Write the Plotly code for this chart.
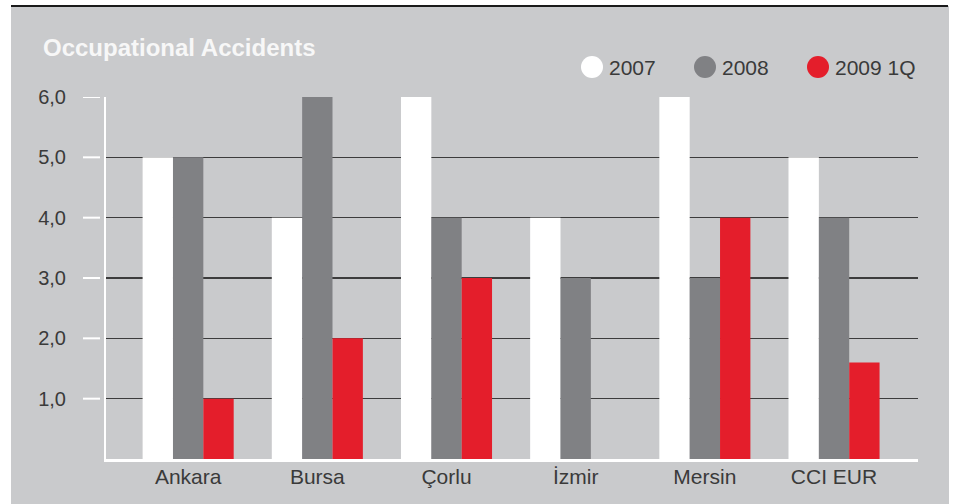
import plotly.graph_objects as go

categories = ["Ankara", "Bursa", "Çorlu", "İzmir", "Mersin", "CCI EUR"]
series_names = ["2007", "2008", "2009 1Q"]
values_2007 = [5, 4, 6, 4, 6, 5]
values_2008 = [5, 6, 4, 3, 3, 4]
values_2009q1 = [1, 2, 3, 0, 4, 1.6]
tick_values = [1, 2, 3, 4, 5, 6]
tick_labels = ["1,0", "2,0", "3,0", "4,0", "5,0", "6,0"]

colors = ["#ffffff", "#808184", "#e41e2b"]
BG = "#c9cacc"
TXT = "#3a3a3a"
FONT = "Liberation Sans, Arial, sans-serif"

W, H = 955, 504
L, R, T, B = 106, 918, 97, 459  # plot area in pixels


def px(x):
    return (x - L) / (R - L)


def py(y):
    return (B - y) / (B - T)


fig = go.Figure()
for name, vals, col in zip(series_names, [values_2007, values_2008, values_2009q1], colors):
    fig.add_trace(go.Bar(x=categories, y=vals, name=name, marker=dict(color=col, line=dict(width=0)),
                         showlegend=False, hoverinfo="skip"))

shapes = [
    # gray panel
    dict(type="rect", xref="paper", yref="paper", x0=px(11), x1=px(949), y0=py(510), y1=py(6),
         fillcolor=BG, line=dict(width=0), layer="below"),
    # top black rule
    dict(type="line", xref="paper", yref="paper", x0=px(11), x1=px(948), y0=py(6), y1=py(6),
         line=dict(color="#1a1a1a", width=2), layer="above"),
]
# detached white tick marks
for v in tick_values:
    shapes.append(dict(type="line", xref="paper", yref="y", x0=px(83), x1=px(100), y0=v, y1=v,
                       line=dict(color="white", width=2)))

annotations = [
    dict(text="<b>Occupational Accidents</b>", xref="paper", yref="paper", x=px(41), y=py(47),
         xanchor="left", yanchor="middle", showarrow=False,
         font=dict(family=FONT, size=24, color="#f7f7f7")),
]
legend_circle_x = [592, 705, 818]
for name, col, cx in zip(series_names, colors, legend_circle_x):
    shapes.append(dict(type="circle", xref="paper", yref="paper", x0=px(cx - 11), x1=px(cx + 11),
                       y0=py(67 + 11), y1=py(67 - 11), fillcolor=col, line=dict(width=0)))
    annotations.append(dict(text=name, xref="paper", yref="paper", x=px(cx + 15), y=py(67),
                            xanchor="left", yanchor="middle", showarrow=False,
                            font=dict(family=FONT, size=21, color=TXT)))

fig.update_layout(
    width=W, height=H, autosize=False,
    margin=dict(l=L, r=W - R, t=T, b=H - B, pad=0),
    paper_bgcolor="white", plot_bgcolor="rgba(0,0,0,0)",
    barmode="group", bargap=0.295, bargroupgap=0,
    separators=", ",
    font=dict(family=FONT, size=20, color=TXT),
    shapes=shapes, annotations=annotations,
    xaxis=dict(range=[-0.636, 5.65], showgrid=False, zeroline=False, showline=True,
               linecolor="white", linewidth=2.5, ticks="", ticklabelstandoff=-3,
               automargin=False,
               tickfont=dict(family=FONT, size=21, color=TXT)),
    yaxis=dict(range=[0, 6], tickvals=tick_values, ticktext=tick_labels, showgrid=True,
               gridcolor="#3c3c3c", gridwidth=1.5, zeroline=False, showline=True,
               linecolor="white", linewidth=2, ticks="outside", ticklen=34, automargin=False,
               tickcolor="rgba(0,0,0,0)", tickfont=dict(family=FONT, size=20, color=TXT)),
)

fig.write_html("out.html", config={"displayModeBar": False, "staticPlot": True},
               post_script="document.body.style.margin='0';")
